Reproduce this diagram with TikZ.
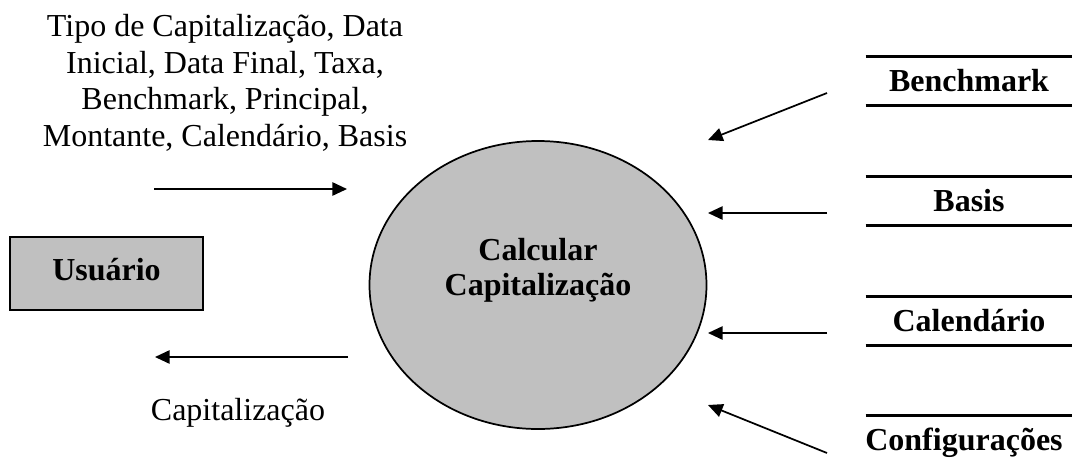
\documentclass[tikz,border=0pt]{standalone}
\usepackage{fontspec}
\setmainfont{Liberation Serif}
\usetikzlibrary{shapes.geometric,arrows.meta}
\definecolor{procgray}{HTML}{C0C0C0}
\tikzset{
  txt/.style={font=\fontsize{24}{27.5}\selectfont, inner sep=0pt, align=center},
  btxt/.style={font=\fontsize{24}{26.5}\selectfont\bfseries, inner sep=0pt, align=center},
  flow/.style={line width=1.3pt, -{Triangle[length=11pt,width=10pt]}},
  proc/.style={ellipse, draw, line width=1.3pt, fill=procgray, minimum width=252.75pt, minimum height=216pt, inner sep=0pt},
  ent/.style={draw, line width=1.5pt, fill=procgray, minimum width=144.75pt, minimum height=54.75pt, inner sep=0pt},
  store/.style={minimum width=154.5pt, minimum height=36pt, inner sep=0pt},
  storeline/.style={line width=2.5pt}
}
\begin{document}
\begin{tikzpicture}[x=0.75pt,y=-0.75pt]
\useasboundingbox (0,0) rectangle (1072,462);
% process
\node[proc] (proc) at (538,285) {};
\node[btxt] (proclabel) at (538,270) {Calcular\\Capitaliza\c{c}\~ao};
% external entity
\node[ent] (user) at (106.5,273.5) {};
\node[btxt] (userlabel) at (106.5,270) {Usu\'ario};
% input label
\node[txt] (inlabel) at (225,83) {Tipo de Capitaliza\c{c}\~ao, Data\\Inicial, Data Final, Taxa,\\Benchmark, Principal,\\Montante, Calend\'ario, Basis};
\node[txt] (outlabel) at (238,413) {Capitaliza\c{c}\~ao};
% user flows
\coordinate (inS) at (154,189);
\coordinate (inE) at (347,189);
\coordinate (outS) at (348,357);
\coordinate (outE) at (155,357);
\draw[flow] (inS) -- (inE);
\draw[flow] (outS) -- (outE);
% data stores
\node[store] (bench) at (969,81) {};
\node[btxt] at (bench.center) {Benchmark};
\node[store] (basis) at (969,201) {};
\node[btxt] at (basis.center) {Basis};
\node[store] (cal) at (969,321) {};
\node[btxt] at (cal.center) {Calend\'ario};
\node[store] (conf) at (969,440) {};
\node[btxt] at (964,443) {Configura\c{c}\~oes};
\foreach \s in {bench,basis,cal}{
  \draw[storeline] (\s.north west) -- (\s.north east);
  \draw[storeline] (\s.south west) -- (\s.south east);
}
\draw[storeline] (conf.north west) -- (conf.north east);
% store flows
\coordinate (b1) at (827,93);   \coordinate (b2) at (708,140);
\coordinate (s1) at (827,213);  \coordinate (s2) at (708,213);
\coordinate (c1) at (827,333);  \coordinate (c2) at (708,333);
\coordinate (f1) at (827,453);  \coordinate (f2) at (708,405);
\draw[flow] (b1) -- (b2);
\draw[flow] (s1) -- (s2);
\draw[flow] (c1) -- (c2);
\draw[flow] (f1) -- (f2);
\end{tikzpicture}
\end{document}
